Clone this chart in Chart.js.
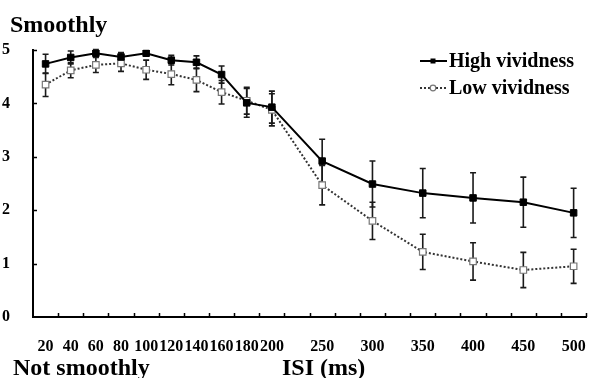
<!DOCTYPE html>
<html><head><meta charset="utf-8">
<script src="https://cdn.jsdelivr.net/npm/chart.js@4.4.1/dist/chart.umd.min.js"></script>
<style>html,body{margin:0;padding:0;background:#fff;}#wrap{width:592px;height:378px;position:relative;}</style>
</head><body><div id="wrap"><canvas id="c" width="592" height="378"></canvas></div>
<script>
// ---- data ----
const isiValues = [20, 40, 60, 80, 100, 120, 140, 160, 180, 200, 250, 300, 350, 400, 450, 500];
const highVividness = [4.74, 4.86, 4.94, 4.87, 4.94, 4.81, 4.77, 4.54, 4.01, 3.93, 2.92, 2.49, 2.32, 2.23, 2.15, 1.95];
const highErr = [0.18, 0.12, 0.07, 0.08, 0.05, 0.09, 0.12, 0.16, 0.27, 0.30, 0.41, 0.43, 0.46, 0.47, 0.47, 0.46];
const lowVividness = [4.35, 4.62, 4.72, 4.75, 4.63, 4.55, 4.44, 4.21, 4.05, 3.88, 2.47, 1.80, 1.22, 1.04, 0.88, 0.95];
const lowErr = [0.22, 0.14, 0.14, 0.15, 0.18, 0.20, 0.22, 0.22, 0.25, 0.30, 0.37, 0.35, 0.33, 0.35, 0.33, 0.32];
const yTickValues = [0, 1, 2, 3, 4, 5];
const seriesNames = ['High vividness', 'Low vividness'];
const yTopLabel = 'Smoothly';
const yBottomLabel = 'Not smoothly';
const xTitle = 'ISI (ms)';

// ---- build category slots (axis spacing: an unlabeled slot before each 50 ms step) ----
const slotValues = [];
const slotIndex = [];
isiValues.forEach((v, i) => {
  if (i > 0 && v - isiValues[i - 1] > 20) slotValues.push(null);
  slotIndex.push(slotValues.length);
  slotValues.push(v);
});
const labels = slotValues.map(v => v === null ? '' : String(v));
function toSlots(arr) {
  const out = slotValues.map(() => null);
  arr.forEach((v, i) => { out[slotIndex[i]] = v; });
  return out;
}
const highData = toSlots(highVividness);
const lowData = toSlots(lowVividness);
const highErrData = toSlots(highErr);
const lowErrData = toSlots(lowErr);

const SERIF = "'Liberation Serif','Times New Roman',serif";

const decor = {
  id: 'decor',
  beforeDatasetsDraw(chart) {
    const ctx = chart.ctx, x = chart.scales.x, y = chart.scales.y;
    const sets = [[highData, highErrData], [lowData, lowErrData]];
    ctx.save();
    ctx.strokeStyle = '#1a1a1a';
    ctx.lineWidth = 1.6;
    sets.forEach(([vals, errs]) => {
      vals.forEach((v, i) => {
        if (v === null) return;
        const px = x.getPixelForValue(i);
        const top = y.getPixelForValue(v + errs[i]);
        const bot = y.getPixelForValue(v - errs[i]);
        ctx.beginPath();
        ctx.moveTo(px, top); ctx.lineTo(px, bot);
        ctx.moveTo(px - 3, top); ctx.lineTo(px + 3, top);
        ctx.moveTo(px - 3, bot); ctx.lineTo(px + 3, bot);
        ctx.stroke();
      });
    });
    ctx.restore();
  },
  afterDraw(chart) {
    const ctx = chart.ctx, x = chart.scales.x, y = chart.scales.y;
    const area = chart.chartArea;
    ctx.save();
    // tick marks (inside)
    ctx.strokeStyle = '#000';
    ctx.lineWidth = 1.5;
    const n = labels.length;
    const w = (x.right - x.left) / n;
    ctx.beginPath();
    for (let k = 1; k <= n; k++) {
      const px = Math.round(x.left + k * w) + 0.5;
      ctx.moveTo(px, area.bottom); ctx.lineTo(px, area.bottom - 4);
    }
    yTickValues.forEach(v => {
      if (v === 0) return;
      const py = Math.round(y.getPixelForValue(v)) + 0.5;
      ctx.moveTo(area.left, py); ctx.lineTo(area.left + 4, py);
    });
    ctx.stroke();

    // corner labels and axis title
    ctx.fillStyle = '#000';
    ctx.font = 'bold 24px ' + SERIF;
    ctx.textAlign = 'left';
    ctx.textBaseline = 'alphabetic';
    ctx.fillText(yTopLabel, 10, 31.5);
    ctx.fillText(yBottomLabel, 13, 374.5);
    ctx.fillText(xTitle, 282, 374.5);

    // legend
    ctx.font = 'bold 20px ' + SERIF;
    ctx.textBaseline = 'middle';
    const lx0 = 420, lx1 = 447, ly = [61, 88];
    // high
    ctx.strokeStyle = '#000'; ctx.lineWidth = 2; ctx.setLineDash([]);
    ctx.beginPath(); ctx.moveTo(lx0, ly[0]); ctx.lineTo(lx1, ly[0]); ctx.stroke();
    ctx.fillStyle = '#000';
    ctx.fillRect(433 - 2.5, ly[0] - 2.5, 5, 5);
    ctx.fillText(seriesNames[0], 449, ly[0] + 1);
    // low
    ctx.strokeStyle = '#333'; ctx.lineWidth = 2; ctx.setLineDash([2, 2]);
    ctx.beginPath(); ctx.moveTo(lx0, ly[1]); ctx.lineTo(lx1, ly[1]); ctx.stroke();
    ctx.setLineDash([]);
    ctx.fillStyle = '#fff'; ctx.strokeStyle = '#777'; ctx.lineWidth = 1.2;
    ctx.beginPath(); ctx.arc(433, ly[1], 2.8, 0, Math.PI * 2); ctx.fill(); ctx.stroke();
    ctx.fillStyle = '#000';
    ctx.fillText(seriesNames[1], 449, ly[1] + 1);
    ctx.restore();
  }
};

new Chart(document.getElementById('c'), {
  type: 'line',
  data: {
    labels: labels,
    datasets: [
      {
        label: seriesNames[0], data: highData, spanGaps: true,
        borderColor: '#000', borderWidth: 2, tension: 0,
        pointStyle: 'rect', pointRadius: 4.6,
        pointBackgroundColor: '#000', pointBorderColor: '#000', pointBorderWidth: 1
      },
      {
        label: seriesNames[1], data: lowData, spanGaps: true,
        borderColor: '#333', borderWidth: 2, borderDash: [2, 2], tension: 0,
        pointStyle: 'rect', pointRadius: 4.6,
        pointBackgroundColor: '#fff', pointBorderColor: '#777', pointBorderWidth: 1.2
      }
    ]
  },
  options: {
    responsive: false,
    devicePixelRatio: 1,
    animation: false,
    layout: { padding: { top: 50, right: 4, left: 0, bottom: 0 } },
    plugins: { legend: { display: false }, tooltip: { enabled: false } },
    scales: {
      x: {
        type: 'category', offset: true,
        grid: { display: false },
        border: { display: true, color: '#000', width: 2 },
        ticks: {
          autoSkip: false, maxRotation: 0, minRotation: 0, padding: 12,
          color: '#000', font: { family: SERIF, size: 16, weight: 'bold' }
        },
        afterFit(s) { s.height = 61; s.paddingLeft = 0; s.paddingRight = 0; }
      },
      y: {
        min: 0, max: 5,
        grid: { display: false },
        border: { display: true, color: '#000', width: 2 },
        afterBuildTicks(s) { s.ticks = yTickValues.map(v => ({ value: v })); },
        ticks: {
          padding: 15, color: '#000',
          font: { family: SERIF, size: 16, weight: 'bold' }
        },
        afterFit(s) { s.width = 33; s.paddingTop = 0; s.paddingBottom = 0; }
      }
    }
  },
  plugins: [decor]
});
</script>
</body></html>
